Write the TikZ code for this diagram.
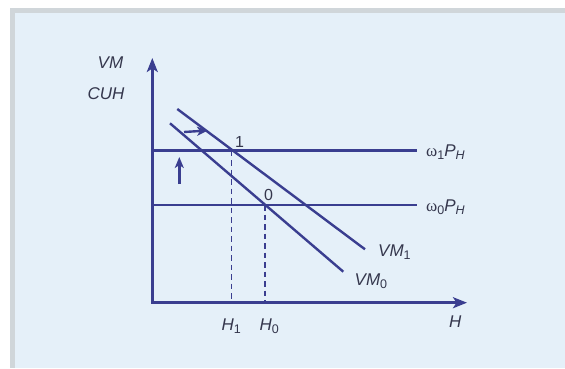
\documentclass[tikz,border=0pt]{standalone}
\usepackage{fontspec}
\setmainfont{Liberation Sans}
\newfontfamily\wfont{Liberation Serif}
\usetikzlibrary{arrows.meta}
\definecolor{ink}{HTML}{3A3E90}
\definecolor{txt}{HTML}{35374D}
\definecolor{panel}{HTML}{E5F0F9}
\definecolor{rim}{HTML}{D0D6DA}
\newcommand{\lsub}[1]{\raisebox{-0.35ex}{\fontsize{12.5}{12.5}\selectfont #1}}
\begin{document}
\begin{tikzpicture}[x=1pt,y=-1pt,
  axisline/.style={ink, line width=2.5pt, -{Stealth[length=14pt,width=11pt,inset=3.5pt]}},
  curve/.style={ink, line width=2.4pt},
  guide/.style={ink, line width=1.5pt, dash pattern=on 5.5pt off 4pt},
  shiftarrow/.style={ink, line width=2.4pt, -{Stealth[length=11pt,width=9pt,inset=3pt]}},
  lbl/.style={txt, inner sep=0pt, font=\fontsize{17}{17}\selectfont\itshape, anchor=base west},
  num/.style={txt, inner sep=0pt, font=\fontsize{16}{16}\selectfont, anchor=base west}]
\useasboundingbox (0,0) rectangle (565,368);
\fill[white] (0,0) rectangle (565,368);
\fill[rim] (10,8) rectangle (565,368);
\fill[panel] (15,13) rectangle (565,368);
% coordinates
\coordinate (O) at (152.3,302.7);
\coordinate (Ytip) at (152.3,58);
\coordinate (Xtip) at (467,302.7);
\coordinate (w1a) at (152.3,150.5);
\coordinate (w1b) at (416.7,150.5);
\coordinate (w0a) at (152.3,205);
\coordinate (w0b) at (416.7,205);
\coordinate (v1a) at (177.3,109);
\coordinate (v1b) at (365,249.3);
\coordinate (v0a) at (170,123.3);
\coordinate (v0b) at (343.3,271.7);
\coordinate (p1) at (231.7,150.5);
\coordinate (h1) at (231.7,302.7);
\coordinate (p0) at (265,205);
\coordinate (h0) at (265,302.7);
\coordinate (ua) at (179.3,184);
\coordinate (ub) at (179.3,157);
\coordinate (ra) at (184,132);
\coordinate (rb) at (208,130.5);
% lines
\draw[guide] (p1) -- (h1);
\draw[guide] (p0) -- (h0);
\draw[curve] (w1a) -- (w1b);
\draw[curve] (w0a) -- (w0b);
\draw[curve] (v1a) -- (v1b);
\draw[curve] (v0a) -- (v0b);
\draw[axisline] ([yshift=-1.2pt]O) -- (Ytip);
\draw[axisline] ([xshift=-1.2pt]O) -- (Xtip);
\draw[shiftarrow] (ua) -- (ub);
\draw[shiftarrow] (ra) -- (rb);
% labels
\node[lbl] (lvm) at (97.5,68.5) {VM};
\node[lbl] (lcuh) at (87.5,99) {CUH};
\node[num] (l1) at (235,147.3) {1};
\node[num] (l0) at (264,200.7) {0};
\node[lbl] (lw1) at (426,156.5) {{\upshape\wfont ω}\lsub{\upshape 1}P\lsub{H}};
\node[lbl] (lw0) at (426,211) {{\upshape\wfont ω}\lsub{\upshape 0}P\lsub{H}};
\node[lbl] (lvm1) at (378,256.5) {VM\lsub{\upshape 1}};
\node[lbl] (lvm0) at (354.5,285.5) {VM\lsub{\upshape 0}};
\node[lbl] (lh1) at (221.5,330) {H\lsub{\upshape 1}};
\node[lbl] (lh0) at (259.5,330) {H\lsub{\upshape 0}};
\node[lbl] (lh) at (449,327.5) {H};
\end{tikzpicture}
\end{document}
